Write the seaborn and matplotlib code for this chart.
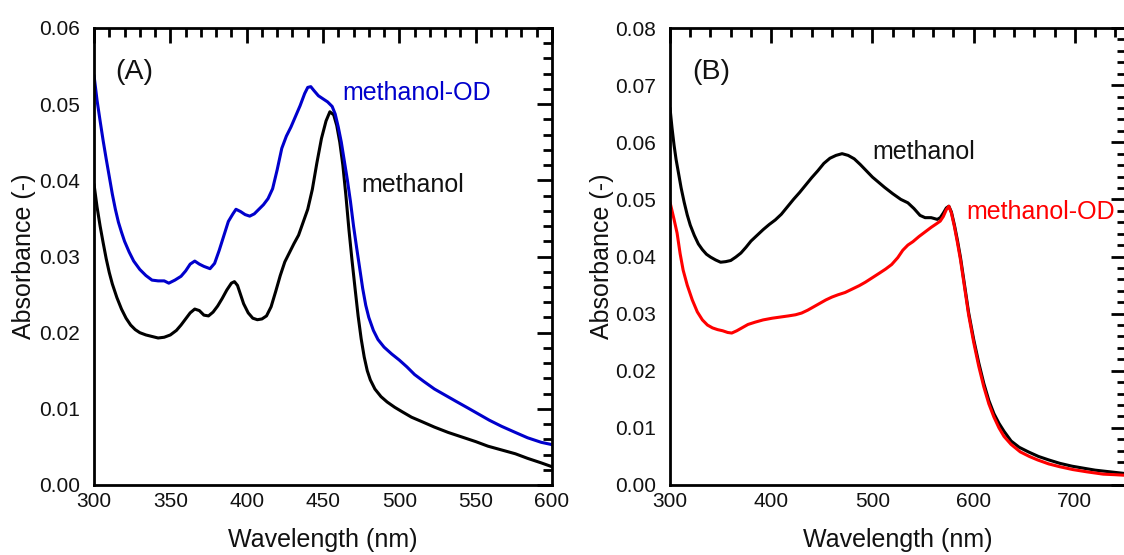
import matplotlib
matplotlib.use("Agg")
import matplotlib.pyplot as plt
from matplotlib.ticker import MultipleLocator, FormatStrFormatter
import pandas as pd
import seaborn as sns

# ---------------- Panel A: spectra in methanol / methanol-OD ----------------
wl_a_meoh = [300, 302, 304, 306, 308, 310, 312, 315, 318, 321, 324, 327, 330, 334, 338,
             342, 346, 350, 354, 357, 360, 363, 366, 369, 372, 375, 378, 381, 384, 387,
             390, 392, 394, 396, 398, 401, 404, 407, 410, 413, 416, 419, 422, 425, 428,
             431, 434, 437, 440, 443, 446, 449, 452, 454.5, 457, 459, 461, 463, 465, 467,
             469, 471, 473, 475, 477, 479, 481, 484, 488, 492, 497, 502, 508, 515, 523,
             532, 541, 550, 558, 567, 576, 584, 593, 600]
abs_a_meoh = [0.0395, 0.0365, 0.0340, 0.0318, 0.0297, 0.0279, 0.0264, 0.0246, 0.0231, 0.0219,
              0.0210, 0.0204, 0.0200, 0.0197, 0.0195, 0.0193, 0.0194, 0.0197, 0.0203, 0.0210,
              0.0218, 0.0226, 0.0231, 0.0229, 0.0223, 0.0222, 0.0227, 0.0235, 0.0245, 0.0256,
              0.0265, 0.0267, 0.0262, 0.0250, 0.0238, 0.0226, 0.0219, 0.0217, 0.0218, 0.0222,
              0.0234, 0.0254, 0.0275, 0.0293, 0.0305, 0.0317, 0.0328, 0.0345, 0.0362, 0.0388,
              0.0423, 0.0455, 0.0478, 0.0490, 0.0486, 0.0472, 0.0450, 0.0420, 0.0380, 0.0335,
              0.0295, 0.0258, 0.0222, 0.0192, 0.0168, 0.0150, 0.0138, 0.0126, 0.0116, 0.0109,
              0.0102, 0.0096, 0.0089, 0.0083, 0.0076, 0.0069, 0.0063, 0.0057, 0.0051, 0.0046,
              0.0041, 0.0035, 0.0029, 0.0024]

wl_a_meod = [300, 302, 304, 306, 308, 310, 312, 314, 316, 318, 320, 323, 326, 330, 334,
             338, 342, 346, 349, 353, 357, 360, 363, 366, 369, 372, 376, 379, 382, 385,
             388, 391, 393, 396, 399, 402, 405, 408, 411, 414, 417, 420, 423, 426, 429,
             432, 435, 438, 440, 442, 444, 447, 450, 453, 456, 458, 460, 462, 464, 466,
             468, 470, 472, 474, 476, 478, 480, 483, 486, 490, 495, 500, 505, 510, 516,
             523, 530, 537, 545, 552, 559, 567, 576, 584, 593, 600]
abs_a_meod = [0.0538, 0.0505, 0.0478, 0.0452, 0.0428, 0.0405, 0.0382, 0.0362, 0.0345, 0.0332,
              0.0320, 0.0306, 0.0294, 0.0283, 0.0275, 0.0269, 0.0268, 0.0268, 0.0265, 0.0269,
              0.0274, 0.0281, 0.0290, 0.0294, 0.0290, 0.0287, 0.0284, 0.0291, 0.0308, 0.0327,
              0.0346, 0.0356, 0.0362, 0.0359, 0.0355, 0.0353, 0.0356, 0.0362, 0.0368, 0.0376,
              0.0389, 0.0414, 0.0442, 0.0458, 0.0470, 0.0484, 0.0498, 0.0514, 0.0522, 0.0523,
              0.0518, 0.0511, 0.0507, 0.0503, 0.0497, 0.0487, 0.0470, 0.0450, 0.0425, 0.0400,
              0.0372, 0.0340, 0.0312, 0.0285, 0.0258, 0.0236, 0.0220, 0.0203, 0.0191, 0.0181,
              0.0172, 0.0164, 0.0155, 0.0145, 0.0136, 0.0126, 0.0118, 0.0110, 0.0101, 0.0093,
              0.0085, 0.0077, 0.0069, 0.0062, 0.0056, 0.0053]

# ---------------- Panel B ----------------
wl_b_meoh = [300, 302, 304, 306, 308, 311, 314, 317, 320, 324, 328, 332, 336, 340, 345,
             350, 355, 360, 365, 370, 375, 380, 386, 392, 398, 404, 410, 416, 422, 428,
             434, 440, 446, 452, 458, 464, 470, 476, 482, 488, 494, 500, 506, 512, 520,
             528, 535, 541, 547, 552, 558, 564, 567, 570, 573, 575.5, 578, 581, 584, 587,
             590, 595, 600, 605, 610, 615, 620, 625, 630, 637, 645, 654, 664, 674, 685,
             697, 710, 720, 735, 750]
abs_b_meoh = [0.0660, 0.0625, 0.0595, 0.0570, 0.0550, 0.0520, 0.0495, 0.0473, 0.0455, 0.0437,
              0.0422, 0.0412, 0.0404, 0.0399, 0.0394, 0.0390, 0.0391, 0.0393, 0.0399, 0.0406,
              0.0416, 0.0427, 0.0437, 0.0447, 0.0456, 0.0464, 0.0474, 0.0487, 0.0500, 0.0512,
              0.0525, 0.0538, 0.0550, 0.0563, 0.0572, 0.0577, 0.0580, 0.0577, 0.0571, 0.0561,
              0.0550, 0.0539, 0.0530, 0.0521, 0.0510, 0.0500, 0.0494, 0.0484, 0.0472, 0.0468,
              0.0468, 0.0465, 0.0468, 0.0476, 0.0485, 0.0488, 0.0478, 0.0455, 0.0428, 0.0398,
              0.0362, 0.0302, 0.0255, 0.0214, 0.0178, 0.0148, 0.0125, 0.0108, 0.0094, 0.0077,
              0.0066, 0.0058, 0.0050, 0.0044, 0.0038, 0.0033, 0.0029, 0.0026, 0.0023, 0.0020]

wl_b_meod = [300, 302, 304, 307, 310, 313, 317, 322, 327, 332, 337, 342, 347, 352, 357,
             361, 366, 371, 377, 384, 392, 401, 409, 417, 424, 430, 436, 442, 448, 454,
             460, 466, 473, 480, 487, 493, 500, 507, 513, 519, 525, 530, 535, 540, 546,
             552, 558, 563, 567, 570, 573, 575.5, 578, 581, 584, 587, 590, 595, 600, 605,
             610, 615, 620, 625, 630, 637, 646, 655, 663, 674, 685, 698, 712, 728, 740, 750]
abs_b_meod = [0.0495, 0.0480, 0.0465, 0.0441, 0.0405, 0.0376, 0.0350, 0.0324, 0.0303, 0.0289,
              0.0280, 0.0275, 0.0272, 0.0270, 0.0267, 0.0266, 0.0270, 0.0275, 0.0281, 0.0285,
              0.0289, 0.0292, 0.0294, 0.0296, 0.0298, 0.0301, 0.0306, 0.0312, 0.0318, 0.0324,
              0.0329, 0.0333, 0.0337, 0.0343, 0.0349, 0.0355, 0.0363, 0.0371, 0.0378, 0.0386,
              0.0398, 0.0411, 0.0420, 0.0426, 0.0435, 0.0443, 0.0451, 0.0457, 0.0462, 0.0470,
              0.0482, 0.0488, 0.0476, 0.0452, 0.0424, 0.0394, 0.0358, 0.0298, 0.0250, 0.0208,
              0.0172, 0.0142, 0.0119, 0.0100, 0.0085, 0.0071, 0.0058, 0.0050, 0.0044, 0.0037,
              0.0032, 0.0027, 0.0023, 0.0019, 0.0018, 0.0017]

BLUE = "#0000CC"
RED = "#FF0000"
BLACK = "#000000"

sns.set_theme(style="white")
plt.rcParams["font.family"] = ["Liberation Sans", "DejaVu Sans"]
plt.rcParams["axes.edgecolor"] = "black"

W, H = 1124, 555
fig = plt.figure(figsize=(W / 100, H / 100), dpi=100)
fig.patch.set_facecolor("white")
ax_a = fig.add_axes([94 / W, 1 - 485 / H, (552 - 94) / W, 457 / H])
ax_b = fig.add_axes([670 / W, 1 - 485 / H, (1125.5 - 670) / W, 457 / H])

LW = 2.2


def draw(ax, wl, ab, color):
    df = pd.DataFrame({"wl": wl, "abs": ab})
    sns.lineplot(data=df, x="wl", y="abs", ax=ax, color=color, lw=LW,
                 estimator=None, sort=False, legend=False)


draw(ax_a, wl_a_meoh, abs_a_meoh, BLACK)
draw(ax_a, wl_a_meod, abs_a_meod, BLUE)
draw(ax_b, wl_b_meoh, abs_b_meoh, BLACK)
draw(ax_b, wl_b_meod, abs_b_meod, RED)


def style(ax, xlim, ylim, xmaj, ymaj):
    ax.set_xlim(*xlim)
    ax.set_ylim(*ylim)
    ax.xaxis.set_major_locator(MultipleLocator(xmaj))
    ax.xaxis.set_minor_locator(MultipleLocator(xmaj / 5))
    ax.yaxis.set_major_locator(MultipleLocator(ymaj))
    ax.yaxis.set_minor_locator(MultipleLocator(ymaj / 5))
    ax.yaxis.set_major_formatter(FormatStrFormatter("%.2f"))
    ax.xaxis.set_major_formatter(FormatStrFormatter("%d"))
    ax.tick_params(which="both", direction="in", top=True, right=True,
                   width=2.0, color="black", labelcolor="#111111")
    ax.tick_params(which="major", length=11, labelsize=15)
    ax.tick_params(which="minor", length=6.5)
    ax.tick_params(axis="y", which="major", pad=10)
    ax.tick_params(axis="x", which="major", pad=5)
    for s in ax.spines.values():
        s.set_linewidth(2.0)
        s.set_color("black")
        s.set_visible(True)
    ax.set_xlabel("Wavelength (nm)", fontsize=18, color="#111111")
    ax.set_ylabel("Absorbance (-)", fontsize=18, color="#111111")
    ax.xaxis.set_label_coords(0.5, -0.093)
    ax.grid(False)


style(ax_a, (300, 600), (0, 0.06), 50, 0.01)
style(ax_b, (300, 750), (0, 0.08), 100, 0.01)
ax_a.yaxis.set_label_coords(-0.127, 0.5)
ax_b.yaxis.set_label_coords(-0.123, 0.5)

ax_a.text(313.8, 0.0533, "(A)", fontsize=20.5, va="baseline", ha="left", color="#111111")
ax_a.text(462.9, 0.0505, "methanol-OD", fontsize=18, va="baseline", ha="left", color=BLUE)
ax_a.text(475.3, 0.0385, "methanol", fontsize=18, va="baseline", ha="left", color="#111111")

ax_b.text(322.4, 0.0711, "(B)", fontsize=20.5, va="baseline", ha="left", color="#111111")
ax_b.text(500.3, 0.0570, "methanol", fontsize=18, va="baseline", ha="left", color="#111111")
ax_b.text(593.2, 0.0465, "methanol-OD", fontsize=18, va="baseline", ha="left", color=RED)

fig.savefig("out.png", dpi=100, facecolor="white")
